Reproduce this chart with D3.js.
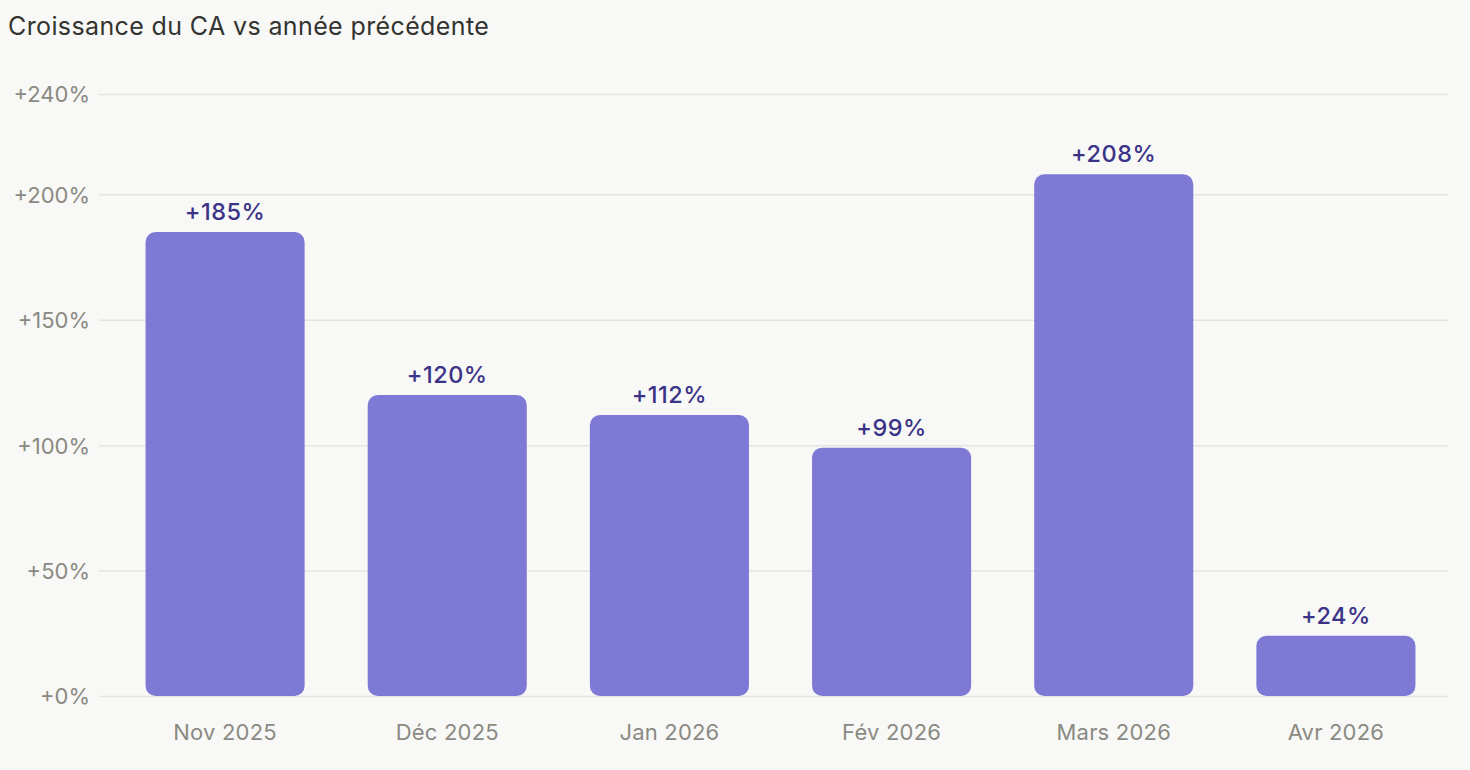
<!DOCTYPE html>
<html><head><meta charset="utf-8">
<script src="https://cdn.jsdelivr.net/npm/d3@7"></script>
<style>
html,body{margin:0;padding:0;background:#F8F8F6;}
svg{display:block;font-family:Inter,"Noto Sans",sans-serif;}
</style></head>
<body>
<svg id="c" width="1470" height="770"></svg>
<script>
const title = "Croissance du CA vs année précédente";
const categories = ["Nov 2025","Déc 2025","Jan 2026","Fév 2026","Mars 2026","Avr 2026"];
const values = [185,120,112,99,208,24];
const yTicks = [0,50,100,150,200,240];

const svg = d3.select("#c");
const W = 1470, H = 770;
svg.append("rect").attr("width",W).attr("height",H).attr("fill","#F8F8F6");

const y = d3.scaleLinear().domain([0,240]).range([696,94]);
const x = d3.scaleBand().domain(categories).range([114,1447]).paddingInner(0.284).paddingOuter(0.142);

svg.append("text").attr("x",8).attr("y",35).attr("font-size",25).attr("fill","#333330")
  .attr("letter-spacing","0.38").text(title);

// grid
const yAxis = d3.axisLeft(y).tickValues(yTicks).tickFormat(d=>"+"+d+"%").tickSize(-(1448-99)).tickPadding(9);
const gy = svg.append("g").attr("transform","translate(99,0)").call(yAxis);
gy.select(".domain").remove();
gy.selectAll(".tick line").attr("stroke","#E4E4E1").attr("stroke-width",1.5);
gy.selectAll(".tick text").attr("font-size",22).attr("letter-spacing","0").attr("fill","#8A8A82").attr("font-family","Inter,'Noto Sans',sans-serif").attr("dy","0.36em");

// bars
const r = 10;
svg.append("g").selectAll("rect").data(values).join("rect")
  .attr("x",(d,i)=>x(categories[i]))
  .attr("y",d=>y(d))
  .attr("width",x.bandwidth())
  .attr("height",d=>y(0)-y(d))
  .attr("rx",r).attr("ry",r)
  .attr("fill","#7F79D6");

svg.append("g").selectAll("text").data(values).join("text")
  .attr("x",(d,i)=>x(categories[i])+x.bandwidth()/2)
  .attr("y",d=>y(d)-12)
  .attr("text-anchor","middle")
  .attr("font-size",23.5).attr("font-weight",500).attr("letter-spacing","0.5").attr("fill","#3B3388")
  .text(d=>"+"+d+"%");

const xAxis = d3.axisBottom(x).tickSize(0).tickPadding(0);
const gx = svg.append("g").attr("transform","translate(0,696)").call(xAxis);
gx.select(".domain").remove();
gx.selectAll(".tick text").attr("font-size",22).attr("letter-spacing","0.2").attr("fill","#8A8A82")
  .attr("font-family","Inter,'Noto Sans',sans-serif").attr("dy",0).attr("y",44);
</script>
</body></html>
